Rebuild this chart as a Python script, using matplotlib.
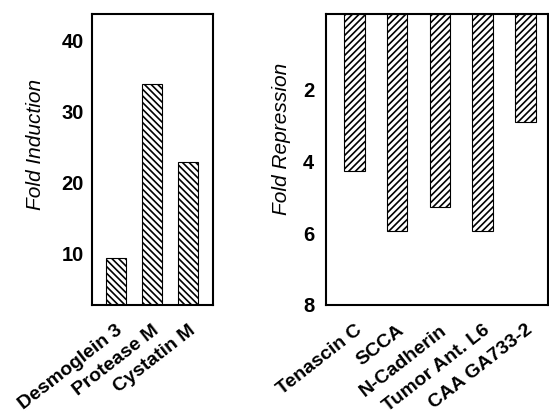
import matplotlib.pyplot as plt

plt.rcParams['font.family'] = ['Liberation Sans', 'DejaVu Sans']
plt.rcParams['hatch.linewidth'] = 1.2

# Fold induction (left panel)
induced_genes = ["Desmoglein 3", "Protease M", "Cystatin M"]
induction = [9.3, 33.8, 22.8]

# Fold repression (right panel)
repressed_genes = ["Tenascin C", "SCCA", "N-Cadherin", "Tumor Ant. L6", "CAA GA733-2"]
repression = [4.26, 5.95, 5.27, 5.95, 2.91]

W, H = 549, 417
fig = plt.figure(figsize=(W / 100, H / 100), dpi=100)

ax1 = fig.add_axes([92 / W, (H - 305) / H, 121 / W, 291 / H])
ax2 = fig.add_axes([326 / W, (H - 305) / H, 222 / W, 291 / H])

# left: bars rise from the bottom
x1 = range(len(induced_genes))
bottom1 = 2.7
ax1.bar(x1, [v - bottom1 for v in induction], bottom=bottom1, width=0.55,
        color="white", edgecolor="black", hatch="\\\\\\\\\\", linewidth=0.8)
ax1.set_xlim(-0.65, 2.69)
ax1.set_ylim(bottom1, 43.7)
ax1.set_yticks([10, 20, 30, 40])
ax1.tick_params(axis="y", pad=6)

# right: bars hang from the top (inverted axis)
x2 = range(len(repressed_genes))
top2 = -0.1
ax2.bar(x2, [v - top2 for v in repression], bottom=top2, width=0.48,
        color="white", edgecolor="black", hatch="/////", linewidth=0.8)
ax2.set_xlim(-0.667, 4.53)
ax2.set_ylim(8, top2)
ax2.set_yticks([2, 4, 6, 8])
ax2.tick_params(axis="y", pad=8.5)

# axis titles sit a little above the middle of each panel
fig.text(35.5 / W, 1 - 144 / H, "Fold Induction", rotation=90, fontsize=15,
         style="italic", ha="center", va="center")
fig.text(281.5 / W, 1 - 139 / H, "Fold Repression", rotation=90, fontsize=15,
         style="italic", ha="center", va="center")

for ax, names in ((ax1, induced_genes), (ax2, repressed_genes)):
    ax.set_xticks(range(len(names)))
    ax.set_xticklabels(names, rotation=38, ha="right", rotation_mode="anchor",
                       fontsize=14, fontweight="bold")
    ax.tick_params(axis="both", length=0)
    ax.tick_params(axis="y", labelsize=14.5)
    ax.tick_params(axis="x", pad=12)
    for lab in ax.get_yticklabels():
        lab.set_fontweight("bold")
    for s in ax.spines.values():
        s.set_linewidth(1.5)

fig.savefig("out.png", dpi=100)
